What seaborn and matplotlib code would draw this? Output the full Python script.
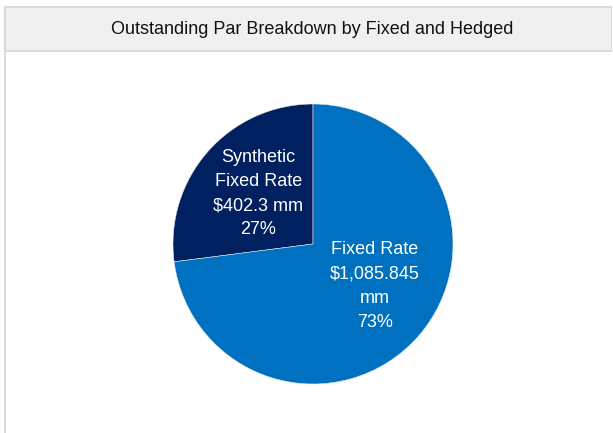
import matplotlib
matplotlib.use("Agg")
import matplotlib.pyplot as plt
from matplotlib.patches import Rectangle
import seaborn as sns
import numpy as np

categories = ["Synthetic Fixed Rate", "Fixed Rate"]
values_mm = [402.3, 1085.845]
value_labels = ["Synthetic\nFixed Rate\n$402.3 mm", "Fixed Rate\n$1,085.845\nmm"]
colors = ["#002060", "#0070C0"]
title = "Outstanding Par Breakdown by Fixed and Hedged"

sns.set_theme(style="white")
plt.rcParams['font.family'] = ['Liberation Sans Narrow', 'Liberation Sans', 'DejaVu Sans']

W, H = 613, 433
fig = plt.figure(figsize=(W / 100, H / 100), dpi=100)
fig.patch.set_facecolor("white")

def fr(x, y, w, h):
    return (x / W, 1 - (y + h) / H, w / W, h / H)

# frame borders
x0, y0, w0, h0 = fr(4, 6, 609, 427)
fig.add_artist(Rectangle((x0, y0), 2 / W, h0, transform=fig.transFigure,
                         facecolor="#d9d9d9", edgecolor="none"))
x1, y1, w1, h1 = fr(4, 6, 608, 46)
fig.add_artist(Rectangle((x1, y1), w1, h1, transform=fig.transFigure,
                         facecolor="#d9d9d9", edgecolor="none"))
x2, y2, w2, h2 = fr(6, 8, 605, 42)
fig.add_artist(Rectangle((x2, y2), w2, h2, transform=fig.transFigure,
                         facecolor="#f0f0f0", edgecolor="none"))
fig.text(312 / W, 1 - 30 / H, title, ha="center", va="center",
         fontsize=13, color="#111111")

ax = fig.add_axes(fr(173, 104, 280, 280))
ax.set_facecolor("none")
labels_it = iter(value_labels)

def fmt(p):
    return f"{next(labels_it)}\n{p:.0f}%"

wedges, texts, autotexts = ax.pie(
    values_mm, colors=colors, startangle=90, counterclock=True,
    autopct=fmt, pctdistance=0.53, radius=1,
    wedgeprops=dict(edgecolor="#dfe6f0", linewidth=0.4),
    textprops=dict(color="white", fontsize=13, linespacing=1.55, parse_math=False),
)
# label placement (text offsets inside each wedge)
label_pos = [(-0.39, 0.36), (0.44, -0.30)]
for t, (px, py) in zip(autotexts, label_pos):
    t.set_position((px, py))

ax.set_xlim(-1, 1)
ax.set_ylim(-1, 1)
ax.set_aspect("equal")
ax.axis("off")

fig.savefig("out.png", dpi=100, facecolor=fig.get_facecolor())
